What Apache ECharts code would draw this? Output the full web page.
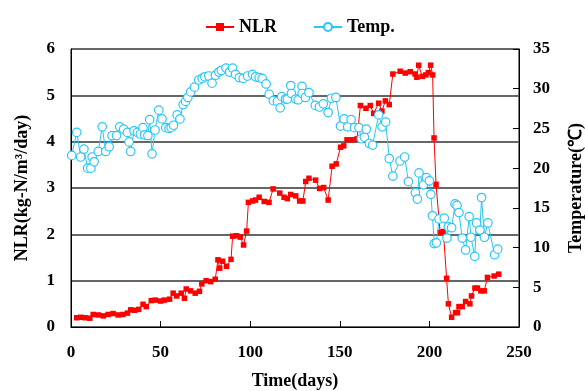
<!DOCTYPE html>
<html>
<head>
<meta charset="utf-8">
<script src="https://cdn.jsdelivr.net/npm/echarts@6/dist/echarts.min.js"></script>
<style>html,body{margin:0;padding:0;background:#fff;}#c{width:585px;height:391px;}</style>
</head>
<body>
<div id="c"></div>
<script>
var nlrDays = [3.2,5.5,7.8,10.5,12.4,15.2,18,20.7,23.5,26.3,29,31.5,33.3,35.5,37.8,40.2,42,44.8,47,50,52,55,57,59,61.5,63.3,64.3,66.7,69.3,71.7,73,75.4,78,80.5,82,83,84.6,86.8,89.3,90.2,92.4,94.5,96.3,98,99,101.3,103,105,107.8,110.5,112.8,116.5,118.9,120.7,122.6,125.4,127.6,129.4,131,132.8,136.5,138.7,141,143.5,145.7,148,150.4,152.2,154,156.8,159.6,161.5,164.6,167,168.9,171.7,173.5,175.4,177.6,179.6,183.7,186.5,189.3,192,193,194,196,198,199.4,200.7,201.8,202.6,203.7,206,207.8,209.6,210.6,212.4,214.6,215.7,216.5,218.3,220.2,222.6,223.5,225.4,226.8,228.7,230.6,232.4,236.1,238.7];
var nlrValues = [0.20,0.21,0.20,0.19,0.27,0.26,0.24,0.27,0.29,0.26,0.27,0.30,0.37,0.36,0.38,0.49,0.44,0.57,0.58,0.56,0.58,0.60,0.73,0.67,0.73,0.62,0.82,0.78,0.73,0.77,0.93,1.00,0.98,1.03,1.45,1.27,1.42,1.31,1.46,1.96,1.97,1.94,1.77,2.07,2.69,2.72,2.74,2.80,2.71,2.69,2.98,2.89,2.80,2.77,2.86,2.83,2.72,2.72,3.14,3.21,3.17,2.99,3.01,2.74,3.47,3.52,3.88,3.91,4.04,4.04,4.06,4.78,4.72,4.78,4.61,4.83,4.66,4.88,4.80,5.46,5.52,5.48,5.51,5.46,5.39,5.65,5.41,5.44,5.49,5.65,5.44,4.08,3.08,2.04,2.06,1.05,0.50,0.21,0.31,0.31,0.44,0.44,0.55,0.50,0.67,0.84,0.84,0.78,0.78,1.07,1.10,1.14];
var tempDays = [0.4,3.2,5.4,7.2,9.3,11.1,11.8,12.9,15.2,17.4,19.4,21.3,22.9,25.4,27.2,29.4,31.5,32.4,33.3,35.2,37.1,38.7,40.2,41.1,42.9,43.9,45.2,46.9,49,50.8,52.9,54.7,55.9,57.2,59.2,60.8,62.6,63.9,65.2,66.8,68.9,71.3,73.2,74.7,76.9,78.7,80.6,82.5,83.9,86.5,88.5,90.2,91.8,93.9,96.1,98.5,101.3,103,105,106.7,108.9,110.6,112.9,115.2,116.7,117.6,119.7,120.7,122.6,123,125.4,126.8,128.9,129,130.8,132.8,136.3,138.6,140.8,143.5,145.3,147.8,150.4,152.4,154.4,156.3,158.2,160.7,162,163.7,164.8,166.5,168.3,171.7,173.6,175.6,177.6,179.6,183.6,186.2,188.3,192.2,193.3,194.2,196.7,198.3,200,200.8,201.7,202.7,203.9,205.4,208.3,209.8,210.6,212.4,214.3,215.4,216.5,218.3,220.2,222.2,223.2,225.3,226.3,228.2,229.1,230.7,232.6,236.4,238.1];
var tempValues = [21.6,24.5,21.4,22.4,20.0,20.0,21.4,20.8,22.1,25.2,22.1,22.7,24.1,24.1,25.2,24.9,24.5,23.3,22.1,24.7,24.5,24.3,25.1,24.2,24.1,26.1,21.8,24.8,27.3,26.2,25.1,25.0,25.1,25.4,26.7,26.2,28.0,28.4,28.9,29.6,30.2,31.1,31.3,31.5,31.6,30.7,31.7,32.1,32.3,32.6,32.1,32.6,31.8,31.4,31.3,31.6,31.8,31.5,31.4,31.3,30.6,29.3,28.5,28.4,27.6,29.0,28.7,28.7,30.4,29.4,28.7,28.6,30.3,29.4,28.9,29.5,27.9,27.7,28.1,27.0,28.8,28.9,25.3,26.2,25.2,26.1,25.1,25.1,23.7,23.9,24.9,23.1,22.9,26.7,25.2,25.8,21.2,19.0,20.9,21.4,18.3,16.9,16.1,19.4,17.9,18.8,18.4,16.7,14.0,10.5,10.6,13.6,13.7,11.2,12.6,12.5,15.5,15.3,14.4,11.2,9.7,13.9,11.3,8.9,13.1,12.2,16.3,11.3,13.1,9.1,9.8];
var xTicks = [0,50,100,150,200,250];
var nlrTicks = [0,1,2,3,4,5,6];
var tempTicks = [0,5,10,15,20,25,30,35];

var FONT = '"Liberation Serif", "Times New Roman", serif';
function pairs(xs, ys){ return xs.map(function(x,i){ return [x, ys[i]]; }); }

var chart = echarts.init(document.getElementById('c'), null, {renderer:'canvas'});
chart.setOption({
  animation: false,
  backgroundColor: '#fff',
  textStyle: {fontFamily: FONT},
  legend: {
    top: 13, left: 200, itemGap: 36, itemWidth: 28, itemHeight: 10,
    textStyle: {fontFamily: FONT, fontWeight: 'bold', fontSize: 18, color: '#000'},
    data: ['NLR', 'Temp.']
  },
  grid: {left: 71, right: 66, top: 49, bottom: 64, containLabel: false, outerBoundsMode: 'none',
         show: true, borderColor: '#000', borderWidth: 1, backgroundColor: 'transparent'},
  xAxis: {
    type: 'value', min: xTicks[0], max: xTicks[xTicks.length-1], interval: 50,
    name: 'Time(days)', nameLocation: 'middle', nameGap: 45,
    nameTextStyle: {fontFamily: FONT, fontWeight: 'bold', fontSize: 18, color: '#000'},
    axisLine: {lineStyle: {color: '#000', width: 1}},
    axisTick: {inside: true, length: 6, lineStyle: {color: '#000'}},
    axisLabel: {fontFamily: FONT, fontWeight: 'bold', fontSize: 17, color: '#000', margin: 17},
    splitLine: {show: false}
  },
  yAxis: [{
    type: 'value', min: nlrTicks[0], max: nlrTicks[nlrTicks.length-1], interval: 1,
    name: 'NLR(kg-N/m³/day)', nameLocation: 'middle', nameGap: 40, nameRotate: 90,
    nameTextStyle: {fontFamily: FONT, fontWeight: 'bold', fontSize: 18, color: '#000'},
    axisLine: {show: true, lineStyle: {color: '#000', width: 1}},
    axisTick: {show: false},
    axisLabel: {fontFamily: FONT, fontWeight: 'bold', fontSize: 17, color: '#000', margin: 16},
    splitLine: {show: true, lineStyle: {color: '#666', width: 2}}
  }, {
    type: 'value', min: tempTicks[0], max: tempTicks[tempTicks.length-1], interval: 5,
    position: 'right',
    name: 'Temperature(℃)', nameLocation: 'middle', nameGap: 48, nameRotate: 90,
    nameTextStyle: {fontFamily: FONT, fontWeight: 'bold', fontSize: 18, color: '#000'},
    axisLine: {show: true, lineStyle: {color: '#000', width: 1}},
    axisTick: {show: true, inside: true, length: 6, lineStyle: {color: '#000'}},
    axisLabel: {fontFamily: FONT, fontWeight: 'bold', fontSize: 17, color: '#000', margin: 14},
    splitLine: {show: false}
  }],
  series: [{
    name: 'NLR', type: 'line', yAxisIndex: 0,
    data: pairs(nlrDays, nlrValues),
    symbol: 'rect', symbolSize: 5.5,
    lineStyle: {color: '#ff0000', width: 1},
    itemStyle: {color: '#ff0000'},
    z: 2
  }, {
    name: 'Temp.', type: 'line', yAxisIndex: 1,
    data: pairs(tempDays, tempValues),
    symbol: 'circle', symbolSize: 8.5,
    lineStyle: {color: '#29c6f7', width: 1},
    itemStyle: {color: '#fff', borderColor: '#29c6f7', borderWidth: 1.2},
    z: 3
  }]
});
</script>
</body>
</html>
